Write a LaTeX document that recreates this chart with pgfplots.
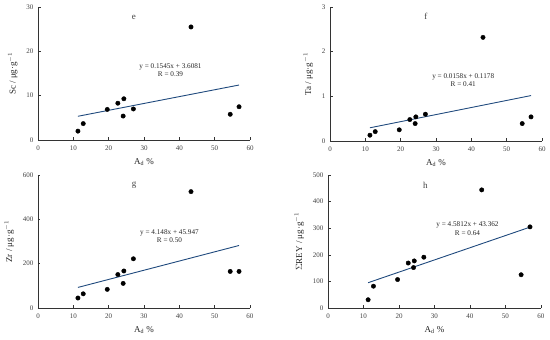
\documentclass[border=0pt]{standalone}
\usepackage{fontspec}
\setmainfont{Liberation Serif}
\usepackage{pgfplots}
\pgfplotsset{compat=1.18}
\definecolor{fitblue}{RGB}{31,73,125}
\tikzset{ann/.style={font=\fontsize{7.2}{8.2}\selectfont, black!85, align=center},
  lett/.style={font=\fontsize{9}{10}\selectfont, black!75}}
\pgfplotsset{
  panel/.style={
    scale only axis,
    anchor=south west,
    axis lines*=left,
    axis line style={black!80, line width=0.6pt},
    tick style={black!80, line width=0.5pt},
    tick align=inside,
    major tick length=2.5pt,
    xmin=0, xmax=60, xtick={0,10,...,60},
    /pgf/number format/assume math mode=true,
    tick label style={font=\fontsize{7}{8}\selectfont, black!75},
    xticklabel style={yshift=-2.5pt},
    yticklabel style={xshift=-1pt},
    label style={font=\fontsize{9}{10}\selectfont, black!85},
    xlabel={A\textsubscript{d} \%},
    xlabel style={yshift=-1pt},
    ylabel style={yshift=2pt},
    clip=false,
  },
  pts/.style={only marks, mark=*, mark size=2.2pt, black},
  fit/.style={fitblue, line width=0.9pt, no marks},
}
\begin{document}
\begin{tikzpicture}
\useasboundingbox (0,0) rectangle (550pt,340pt);
% e
\begin{axis}[panel, at={(38pt,200pt)}, width=212pt, height=133pt,
  ymin=0, ymax=30, ytick={0,10,20,30},
  ylabel={Sc / μg·g$^{-1}$}]
\addplot[pts] coordinates {(11.3,2.0) (12.8,3.7) (19.6,6.9) (22.6,8.3) (24.1,5.4) (24.3,9.3) (27.0,7.0) (43.3,25.5) (54.4,5.8) (56.9,7.5)};
\addplot[fit] coordinates {(11.3,5.35) (56.9,12.40)};
\node[lett] at (axis cs:27.1,27.6) {e};
\node[ann] at (axis cs:37.5,15.7) {y = 0.1545x + 3.6081\\R = 0.39};
\end{axis}
% f
\begin{axis}[panel, at={(330pt,199pt)}, width=212pt, height=134pt,
  ymin=0, ymax=3, ytick={0,1,2,3},
  ylabel={Ta / μg·g$^{-1}$}]
\addplot[pts] coordinates {(11.3,0.13) (12.8,0.21) (19.6,0.25) (22.6,0.48) (24.1,0.39) (24.3,0.54) (27.0,0.60) (43.3,2.32) (54.4,0.39) (56.9,0.54)};
\addplot[fit] coordinates {(11.3,0.296) (56.9,1.017)};
\node[lett] at (axis cs:27.1,2.78) {f};
\node[ann] at (axis cs:37.7,1.36) {y = 0.0158x + 0.1178\\R = 0.41};
\end{axis}
% g
\begin{axis}[panel, at={(38pt,32pt)}, width=212pt, height=133pt,
  ymin=0, ymax=600, ytick={0,200,400,600},
  ylabel={Zr / μg·g$^{-1}$}]
\addplot[pts] coordinates {(11.3,45) (12.8,64) (19.6,84) (22.6,151) (24.1,111) (24.3,167) (27.0,222) (43.3,525) (54.4,165) (56.9,165)};
\addplot[fit] coordinates {(11.3,92.8) (56.9,282.0)};
\node[lett] at (axis cs:27.2,552) {g};
\node[ann] at (axis cs:37.2,324) {y = 4.148x + 45.947\\R = 0.50};
\end{axis}
% h
\begin{axis}[panel, at={(328pt,32pt)}, width=213pt, height=133pt,
  ymin=0, ymax=500, ytick={0,100,...,500},
  ylabel={$\Sigma$REY / μg·g$^{-1}$}]
\addplot[pts] coordinates {(11.3,31) (12.8,82) (19.6,107) (22.6,169) (24.1,152) (24.3,177) (27.0,191) (43.3,444) (54.4,125) (56.9,305)};
\addplot[fit] coordinates {(11.3,95.1) (56.9,304.0)};
\node[lett] at (axis cs:27.4,460) {h};
\node[ann] at (axis cs:39.3,298) {y = 4.5812x + 43.362\\R = 0.64};
\end{axis}
\end{tikzpicture}
\end{document}
